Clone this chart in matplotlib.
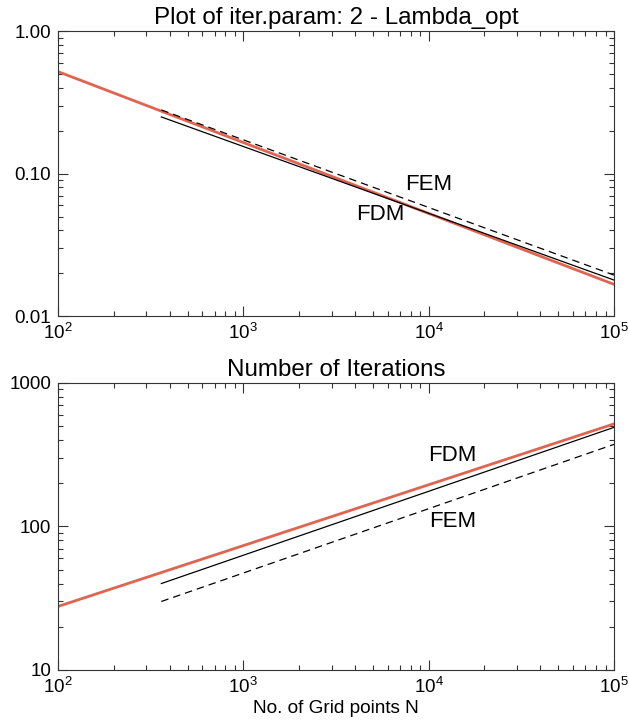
import matplotlib
matplotlib.use('Agg')
import matplotlib.pyplot as plt
from matplotlib.ticker import FixedLocator, FixedFormatter, LogLocator, NullFormatter

plt.rcParams['font.family'] = ['Liberation Sans', 'DejaVu Sans']
plt.rcParams['mathtext.fontset'] = 'custom'
plt.rcParams['mathtext.rm'] = 'Liberation Sans'
plt.rcParams['mathtext.it'] = 'Liberation Sans:italic'

# -----------------------------
# Data
# -----------------------------
# top panel: optimal iteration parameter
lam_n_theory = [100, 100000]
lam_theory = [0.52, 0.0167]
lam_n = [361, 100000]
lam_fdm = [0.25, 0.0179]
lam_fem = [0.28, 0.0194]

# bottom panel: number of iterations
it_n_theory = [100, 100000]
it_theory = [27.7, 518]
it_n = [361, 100000]
it_fdm = [40, 490]
it_fem = [30, 373]

RED = '#e06450'
AX_COL = '#333333'


def style_axis(ax, yticks, ylabels):
    ax.set_xscale('log')
    ax.set_yscale('log')
    ax.set_xlim(100, 100000)
    ax.set_ylim(yticks[0], yticks[-1])
    ax.yaxis.set_major_locator(FixedLocator(yticks))
    ax.yaxis.set_major_formatter(FixedFormatter(ylabels))
    ax.yaxis.set_minor_locator(LogLocator(base=10, subs=range(2, 10)))
    ax.yaxis.set_minor_formatter(NullFormatter())
    ax.xaxis.set_minor_locator(LogLocator(base=10, subs=range(2, 10)))
    ax.xaxis.set_minor_formatter(NullFormatter())
    ax.tick_params(which='both', direction='in', top=True, right=True,
                   colors=AX_COL, labelcolor='black', labelsize=13.5, width=0.8)
    ax.tick_params(which='major', length=7.5, pad=5)
    ax.tick_params(which='minor', length=3.8)
    for sp in ax.spines.values():
        sp.set_color(AX_COL)
        sp.set_linewidth(0.8)


fig = plt.figure(figsize=(6.29, 7.25), dpi=100)

ax1 = fig.add_axes([0.0922, 0.564, 0.884, 0.393])
ax1.plot(lam_n_theory, lam_theory, color=RED, lw=2.0)
ax1.plot(lam_n, lam_fdm, color='black', lw=0.9)
ax1.plot(lam_n, lam_fem, color='black', lw=0.9, linestyle=(0, (6, 4)))
ax1.text(10000, 0.0838, 'FEM', fontsize=16, ha='center', va='center')
ax1.text(5460, 0.0517, 'FDM', fontsize=16, ha='center', va='center')
style_axis(ax1, [0.01, 0.1, 1.0], ['0.01', '0.10', '1.00'])
ax1.set_title('Plot of iter.param: 2 - Lambda_opt', fontsize=17.4, pad=5)

ax2 = fig.add_axes([0.0922, 0.0759, 0.884, 0.396])
ax2.plot(it_n_theory, it_theory, color=RED, lw=2.0)
ax2.plot(it_n, it_fdm, color='black', lw=0.9)
ax2.plot(it_n, it_fem, color='black', lw=0.9, linestyle=(0, (6, 4)))
ax2.text(13400, 312, 'FDM', fontsize=16, ha='center', va='center')
ax2.text(13500, 108, 'FEM', fontsize=16, ha='center', va='center')
style_axis(ax2, [10, 100, 1000], ['10', '100', '1000'])
ax2.set_title('Number of Iterations', fontsize=17.4, pad=5)
ax2.set_xlabel('No. of Grid points N', fontsize=13.7, labelpad=2)

fig.savefig('out.png', dpi=100)
